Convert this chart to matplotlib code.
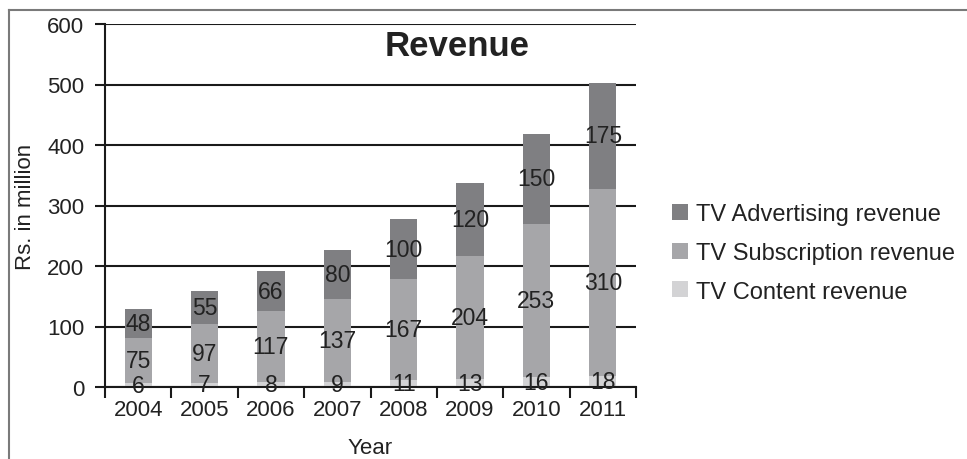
import numpy as np
import matplotlib
matplotlib.use('Agg')
import matplotlib.pyplot as plt
from matplotlib.lines import Line2D

years = ['2004', '2005', '2006', '2007', '2008', '2009', '2010', '2011']
content = [6, 7, 8, 9, 11, 13, 16, 18]
subscription = [75, 97, 117, 137, 167, 204, 253, 310]
advertising = [48, 55, 66, 80, 100, 120, 150, 175]

plt.rcParams['font.family'] = ['Liberation Sans', 'DejaVu Sans']
plt.rcParams['font.size'] = 16
txt = '#222222'

fig = plt.figure(figsize=(9.67, 4.6), dpi=100)
ax = fig.add_axes([105 / 967, 72 / 460, 531 / 967, 363 / 460])

# grey outer frame, only left and top sides are visible in the picture
fx, fy = 8.5 / 967, 1 - 10.5 / 460
fig.lines.append(Line2D([fx, fx], [0, fy], transform=fig.transFigure,
                        color='#7a7a7a', linewidth=1.5))
fig.lines.append(Line2D([fx, 1], [fy, fy], transform=fig.transFigure,
                        color='#7a7a7a', linewidth=1.5))

x = np.arange(len(years))
w = 0.41
b1 = ax.bar(x, content, w, color='#d3d3d5', label='TV Content revenue')
b2 = ax.bar(x, subscription, w, bottom=content, color='#a6a6a9',
            label='TV Subscription revenue')
bottom2 = np.array(content) + np.array(subscription)
b3 = ax.bar(x, advertising, w, bottom=bottom2, color='#7f7f82',
            label='TV Advertising revenue')
for b in (b1, b2, b3):
    ax.bar_label(b, label_type='center', color=txt, fontsize=16.5)

ax.set_xlim(-0.5, len(years) - 0.5)
ax.set_ylim(0, 600)
ax.set_yticks(range(0, 601, 100))
ax.yaxis.grid(True, color='#1a1a1a', linewidth=1.5)
ax.set_axisbelow(True)

ax.set_xticks(np.arange(len(years) + 1) - 0.5)
ax.set_xticklabels([])
ax.set_xticks(x, minor=True)
ax.set_xticklabels(years, minor=True)
ax.tick_params(axis='x', which='major', length=8, width=1.5, color='#1a1a1a')
ax.tick_params(axis='x', which='minor', length=0, pad=9, labelcolor=txt)
ax.tick_params(axis='y', length=7, width=1.5, color='#1a1a1a', pad=8, labelcolor=txt)

for s in ('top', 'right'):
    ax.spines[s].set_visible(False)
for s in ('left', 'bottom'):
    ax.spines[s].set_linewidth(1.5)
    ax.spines[s].set_color('#1a1a1a')

ax.set_xlabel('Year', color=txt, labelpad=12)
ax.set_ylabel('Rs. in million', color=txt, labelpad=8)
ax.text(0.664, 0.94, 'Revenue', transform=ax.transAxes, ha='center', va='center',
        fontsize=25, fontweight='bold', color=txt)

h, l = ax.get_legend_handles_labels()
fig.legend(h[::-1], l[::-1], loc='center left', bbox_to_anchor=(651 / 967, 1 - 254 / 460),
           frameon=False, handlelength=0.65, handleheight=0.65, handletextpad=0.35,
           labelspacing=0.7, labelcolor=txt, fontsize=17)

fig.savefig('out.png', dpi=100)
